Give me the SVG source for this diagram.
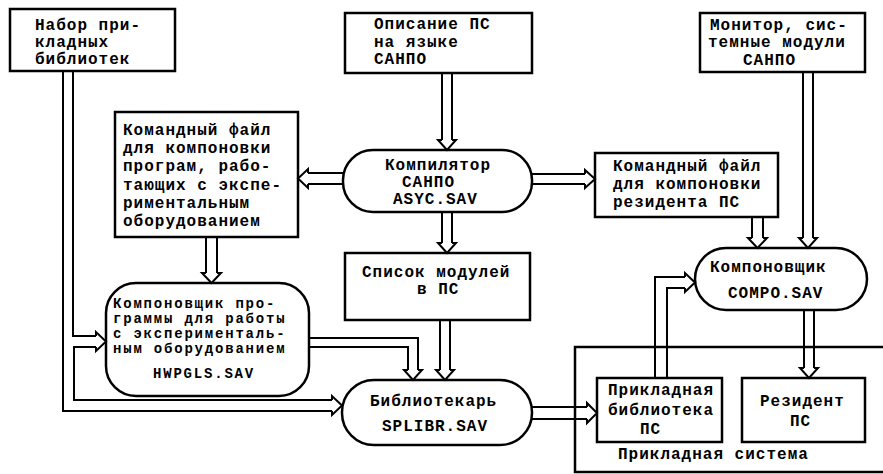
<svg xmlns="http://www.w3.org/2000/svg" width="883" height="474" viewBox="0 0 883 474">
<style>
.box{fill:#fff;stroke:#000;stroke-width:2.5}
.cont{fill:none;stroke:#000;stroke-width:2.5}
.ln{fill:none;stroke:#000;stroke-width:2}
.hd{fill:#fff;stroke:#000;stroke-width:2;stroke-linejoin:miter}
text{font-family:"Liberation Mono","DejaVu Sans Mono",monospace;font-weight:bold;font-size:16px;letter-spacing:1px;fill:#000}
.sm{font-size:14px;letter-spacing:1.8px}
</style>
<rect width="883" height="474" fill="#fff"/>
<g id="system">
<path class="cont" d="M883,347 H575 V472 H883"/>
<text x="618" y="459">Прикладная система</text>
</g>
<g id="nabor">
<rect class="box" x="10" y="9" width="165" height="62"/>
<text x="35" y="30">Набор при-</text>
<text x="35" y="47">кладных</text>
<text x="35" y="64">библиотек</text>
</g>
<g id="opisanie">
<rect class="box" x="345" y="13" width="187" height="60"/>
<text x="374" y="29">Описание ПС</text>
<text x="374" y="47">на языке</text>
<text x="374" y="64">САНПО</text>
</g>
<g id="monitor">
<rect class="box" x="700" y="13" width="165" height="59"/>
<text x="710" y="30">Монитор, сис-</text>
<text x="708" y="47">темные модули</text>
<text x="743" y="65">САНПО</text>
</g>
<g id="cmd-left">
<rect class="box" x="115" y="112" width="183" height="125"/>
<text x="123" y="135">Командный файл</text>
<text x="123" y="153">для компоновки</text>
<text x="123" y="171">програм, рабо-</text>
<text x="123" y="190">тающих с экспе-</text>
<text x="123" y="208">риментальным</text>
<text x="123" y="226">оборудованием</text>
</g>
<g id="compiler">
<rect class="box" x="343" y="150" width="189" height="62" rx="30" ry="30"/>
<text x="385" y="170">Компилятор</text>
<text x="402" y="187">САНПО</text>
<text x="393" y="204">ASYC.SAV</text>
</g>
<g id="cmd-right">
<rect class="box" x="595" y="153" width="183" height="64"/>
<text x="613" y="171">Командный файл</text>
<text x="613" y="189">для компоновки</text>
<text x="613" y="207">резидента  ПС</text>
</g>
<g id="spisok">
<rect class="box" x="345" y="253" width="185" height="67"/>
<text x="362" y="277">Список модулей</text>
<text x="417" y="294">в ПС</text>
</g>
<g id="hwpgls">
<rect class="box" x="106" y="283" width="203" height="113" rx="30" ry="30"/>
<text class="sm" x="113" y="308">Компоновщик про-</text>
<text class="sm" x="113" y="323">граммы для работы</text>
<text class="sm" x="113" y="338">с эксперименталь-</text>
<text class="sm" x="113" y="353">ным оборудованием</text>
<text class="sm" x="153" y="378">HWPGLS.SAV</text>
</g>
<g id="compo">
<rect class="box" x="695" y="248" width="172" height="62" rx="31" ry="31"/>
<text x="710" y="272">Компоновщик</text>
<text x="728" y="298">COMPO.SAV</text>
</g>
<g id="splibr">
<rect class="box" x="342" y="380" width="190" height="65" rx="32" ry="32"/>
<text x="370" y="406">Библиотекарь</text>
<text x="382" y="431">SPLIBR.SAV</text>
</g>
<g id="lib">
<rect class="box" x="597" y="378" width="125" height="64"/>
<text x="608" y="395">Прикладная</text>
<text x="608" y="415">библиотека</text>
<text x="640" y="434">ПС</text>
</g>
<g id="resident">
<rect class="box" x="742" y="378" width="123" height="64"/>
<text x="760" y="406">Резидент</text>
<text x="790" y="426">ПС</text>
</g>
<g id="connectors">
<path class="ln" d="M442,73 V140 M452,73 V140"/>
<path class="hd" d="M442,140 H438 L447,150 L456,140 H452"/>
<path class="ln" d="M442,212 V243 M452,212 V243"/>
<path class="hd" d="M442,243 H438 L447,253 L456,243 H452"/>
<path class="ln" d="M343,173 H308 M343,184 H308"/>
<path class="hd" d="M308,173 V169 L298,178.5 L308,188 V184"/>
<path class="ln" d="M532,174 H585 M532,184 H585"/>
<path class="hd" d="M585,174 V170 L595,179 L585,188 V184"/>
<path class="ln" d="M206,237 V273 M217,237 V273"/>
<path class="hd" d="M206,273 H202 L211.5,283 L221,273 H217"/>
<path class="ln" d="M309,338 H418 V370 M309,347 H408 V370"/>
<path class="hd" d="M408,370 H404 L413,380 L422,370 H418"/>
<path class="ln" d="M440,320 V370 M450,320 V370"/>
<path class="hd" d="M440,370 H436 L445,380 L454,370 H450"/>
<path class="ln" d="M63,71 V411 H332 M73,71 V336 H96 M96,347 H74 V400 H332"/>
<path class="hd" d="M96,336 V332 L106,341.5 L96,351 V347"/>
<path class="hd" d="M332,400 V396 L342,405.5 L332,415 V411"/>
<path class="ln" d="M752,217 V238 M763,217 V238"/>
<path class="hd" d="M752,238 H748 L757.5,248 L767,238 H763"/>
<path class="ln" d="M803,72 V238 M813,72 V238"/>
<path class="hd" d="M803,238 H799 L808,248 L817,238 H813"/>
<path class="ln" d="M804,310 V368 M814,310 V368"/>
<path class="hd" d="M804,368 H800 L809,378 L818,368 H814"/>
<path class="ln" d="M655,378 V277 H685 M667,378 V288 H685"/>
<path class="hd" d="M685,277 V273 L695,282.5 L685,292 V288"/>
<path class="ln" d="M532,407 H587 M532,419 H587"/>
<path class="hd" d="M587,407 V403 L597,413 L587,423 V419"/>
</g>
</svg>
